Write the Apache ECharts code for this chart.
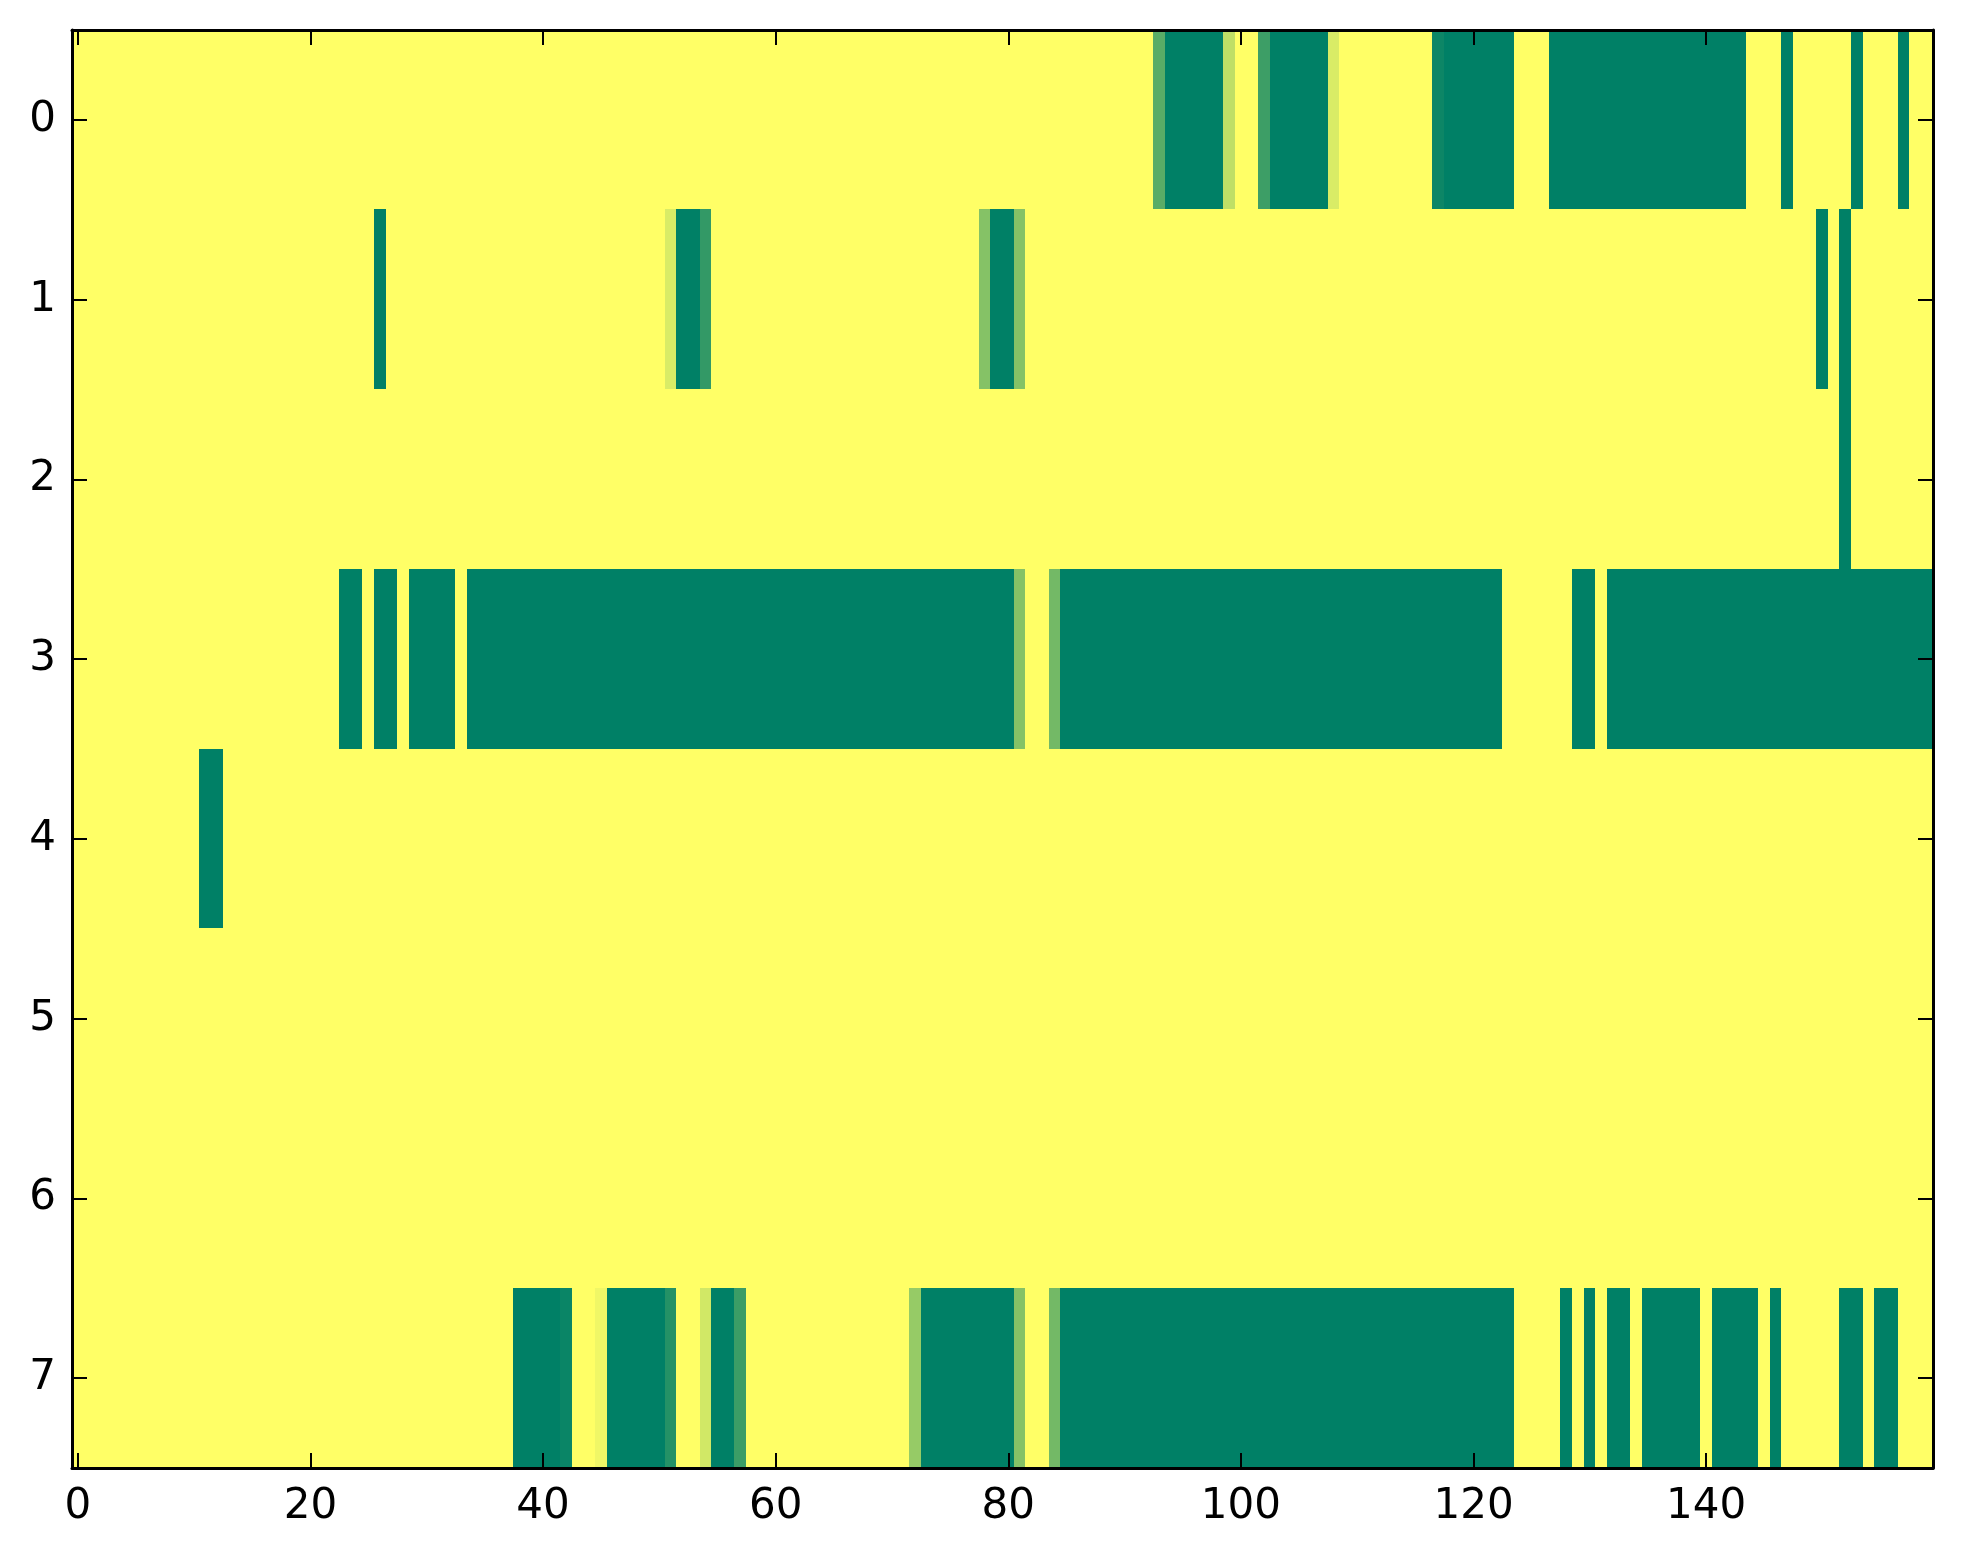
<!DOCTYPE html>
<html>
<head>
<meta charset="utf-8">
<script src="https://cdn.jsdelivr.net/npm/echarts@6/dist/echarts.min.js"></script>
<style>html,body{margin:0;padding:0;background:#fff}#c{width:1963px;height:1564px}</style>
</head>
<body>
<div id="c"></div>
<script>
// Row values (0..1), 160 columns each, rows 0..7 (top to bottom)
const row0 = [
0,0,0,0,0,0,0,0,0,0,0,0,0,0,0,0,0,0,0,0,
0,0,0,0,0,0,0,0,0,0,0,0,0,0,0,0,0,0,0,0,
0,0,0,0,0,0,0,0,0,0,0,0,0,0,0,0,0,0,0,0,
0,0,0,0,0,0,0,0,0,0,0,0,0,0,0,0,0,0,0,0,
0,0,0,0,0,0,0,0,0,0,0,0,0,0.65,1,1,1,1,1,0.25,
0,0,0.76,1,1,1,1,1,0.15,0,0,0,0,0,0,0,0,0.95,1,1,
1,1,1,1,0,0,0,1,1,1,1,1,1,1,1,1,1,1,1,1,
1,1,1,1,0,0,0,1,0,0,0,0,0,1,0,0,0,1,0,0
];
const row1 = [
0,0,0,0,0,0,0,0,0,0,0,0,0,0,0,0,0,0,0,0,
0,0,0,0,0,0,1,0,0,0,0,0,0,0,0,0,0,0,0,0,
0,0,0,0,0,0,0,0,0,0,0,0.15,1,1,0.8,0,0,0,0,0,
0,0,0,0,0,0,0,0,0,0,0,0,0,0,0,0,0,0,0.48,1,
1,0.48,0,0,0,0,0,0,0,0,0,0,0,0,0,0,0,0,0,0,
0,0,0,0,0,0,0,0,0,0,0,0,0,0,0,0,0,0,0,0,
0,0,0,0,0,0,0,0,0,0,0,0,0,0,0,0,0,0,0,0,
0,0,0,0,0,0,0,0,0,0,1,0,1,0,0,0,0,0,0,0
];
const row2 = [
0,0,0,0,0,0,0,0,0,0,0,0,0,0,0,0,0,0,0,0,
0,0,0,0,0,0,0,0,0,0,0,0,0,0,0,0,0,0,0,0,
0,0,0,0,0,0,0,0,0,0,0,0,0,0,0,0,0,0,0,0,
0,0,0,0,0,0,0,0,0,0,0,0,0,0,0,0,0,0,0,0,
0,0,0,0,0,0,0,0,0,0,0,0,0,0,0,0,0,0,0,0,
0,0,0,0,0,0,0,0,0,0,0,0,0,0,0,0,0,0,0,0,
0,0,0,0,0,0,0,0,0,0,0,0,0,0,0,0,0,0,0,0,
0,0,0,0,0,0,0,0,0,0,0,0,1,0,0,0,0,0,0,0
];
const row3 = [
0,0,0,0,0,0,0,0,0,0,0,0,0,0,0,0,0,0,0,0,
0,0,0,1,1,0,1,1,0,1,1,1,1,0,1,1,1,1,1,1,
1,1,1,1,1,1,1,1,1,1,1,1,1,1,1,1,1,1,1,1,
1,1,1,1,1,1,1,1,1,1,1,1,1,1,1,1,1,1,1,1,
1,0.48,0,0,0.55,1,1,1,1,1,1,1,1,1,1,1,1,1,1,1,
1,1,1,1,1,1,1,1,1,1,1,1,1,1,1,1,1,1,1,1,
1,1,1,0,0,0,0,0,0,1,1,0,1,1,1,1,1,1,1,1,
1,1,1,1,1,1,1,1,1,1,1,1,1,1,1,1,1,1,1,1
];
const row4 = [
0,0,0,0,0,0,0,0,0,0,0,1,1,0,0,0,0,0,0,0,
0,0,0,0,0,0,0,0,0,0,0,0,0,0,0,0,0,0,0,0,
0,0,0,0,0,0,0,0,0,0,0,0,0,0,0,0,0,0,0,0,
0,0,0,0,0,0,0,0,0,0,0,0,0,0,0,0,0,0,0,0,
0,0,0,0,0,0,0,0,0,0,0,0,0,0,0,0,0,0,0,0,
0,0,0,0,0,0,0,0,0,0,0,0,0,0,0,0,0,0,0,0,
0,0,0,0,0,0,0,0,0,0,0,0,0,0,0,0,0,0,0,0,
0,0,0,0,0,0,0,0,0,0,0,0,0,0,0,0,0,0,0,0
];
const row5 = [
0,0,0,0,0,0,0,0,0,0,0,0,0,0,0,0,0,0,0,0,
0,0,0,0,0,0,0,0,0,0,0,0,0,0,0,0,0,0,0,0,
0,0,0,0,0,0,0,0,0,0,0,0,0,0,0,0,0,0,0,0,
0,0,0,0,0,0,0,0,0,0,0,0,0,0,0,0,0,0,0,0,
0,0,0,0,0,0,0,0,0,0,0,0,0,0,0,0,0,0,0,0,
0,0,0,0,0,0,0,0,0,0,0,0,0,0,0,0,0,0,0,0,
0,0,0,0,0,0,0,0,0,0,0,0,0,0,0,0,0,0,0,0,
0,0,0,0,0,0,0,0,0,0,0,0,0,0,0,0,0,0,0,0
];
const row6 = [
0,0,0,0,0,0,0,0,0,0,0,0,0,0,0,0,0,0,0,0,
0,0,0,0,0,0,0,0,0,0,0,0,0,0,0,0,0,0,0,0,
0,0,0,0,0,0,0,0,0,0,0,0,0,0,0,0,0,0,0,0,
0,0,0,0,0,0,0,0,0,0,0,0,0,0,0,0,0,0,0,0,
0,0,0,0,0,0,0,0,0,0,0,0,0,0,0,0,0,0,0,0,
0,0,0,0,0,0,0,0,0,0,0,0,0,0,0,0,0,0,0,0,
0,0,0,0,0,0,0,0,0,0,0,0,0,0,0,0,0,0,0,0,
0,0,0,0,0,0,0,0,0,0,0,0,0,0,0,0,0,0,0,0
];
const row7 = [
0,0,0,0,0,0,0,0,0,0,0,0,0,0,0,0,0,0,0,0,
0,0,0,0,0,0,0,0,0,0,0,0,0,0,0,0,0,0,1,1,
1,1,0.96,0,0,0.06,1,1,1,1,1,0.86,0,0,0.18,1,1,0.77,0,0,
0,0,0,0,0,0,0,0,0,0,0,0,0.41,1,1,1,1,1,1,1,
1,0.48,0,0,0.55,1,1,1,1,1,1,1,1,1,1,1,1,1,1,1,
1,1,1,1,1,1,1,1,1,1,1,1,1,1,1,1,1,1,1,1,
1,1,1,1,0,0,0,0,1,0,1,0,1,1,0,1,1,1,1,1,
0,1,1,1,1,0,1,0,0,0,0,0,1,1,0,1,1,0,0,0
];
const rows = [row0, row1, row2, row3, row4, row5, row6, row7];
const xCategories = Array.from({length: 160}, (_, i) => String(i));
const yCategories = ['0','1','2','3','4','5','6','7'];
const xTickStep = 20;

const cells = [];
rows.forEach((r, y) => r.forEach((v, x) => cells.push([x, y, v])));

const chart = echarts.init(document.getElementById('c'), null, {renderer: 'canvas'});
const font = {fontFamily: 'DejaVu Sans', fontSize: 42, color: '#000'};
const lineStyle = {color: '#000', width: 3};
const tickFn = (i) => i % xTickStep === 0;

function xAx(pos, showLabel) {
  return {
    type: 'category', data: xCategories, position: pos, boundaryGap: true, z: 10,
    axisLine: {show: true, onZero: false, lineStyle: lineStyle},
    axisTick: {show: true, inside: true, length: 15, alignWithLabel: true, interval: tickFn, lineStyle: {color: '#000', width: 2}},
    axisLabel: Object.assign({show: showLabel, interval: tickFn, margin: 18}, font),
    splitLine: {show: false}
  };
}
function yAx(pos, showLabel) {
  return {
    type: 'category', data: yCategories, position: pos, inverse: true, boundaryGap: true, z: 10,
    axisLine: {show: true, onZero: false, lineStyle: lineStyle},
    axisTick: {show: true, inside: true, length: 15, alignWithLabel: true, lineStyle: {color: '#000', width: 2}},
    axisLabel: Object.assign({show: showLabel, margin: 16}, font),
    splitLine: {show: false}
  };
}

chart.setOption({
  animation: false,
  backgroundColor: '#ffffff',
  grid: {left: 72, right: 30, top: 30, bottom: 96, containLabel: false},
  xAxis: [xAx('bottom', true), xAx('top', false)],
  yAxis: [yAx('left', true), yAx('right', false)],
  visualMap: {
    show: false, type: 'continuous', min: 0, max: 1, dimension: 2, seriesIndex: 0,
    inRange: {color: ['#ffff66', '#008066']}
  },
  series: [{
    type: 'custom', xAxisIndex: 0, yAxisIndex: 0, data: cells,
    encode: {x: 0, y: 1},
    clip: true,
    renderItem: function (params, api) {
      const p = api.coord([api.value(0), api.value(1)]);
      const s = api.size([1, 1]);
      const x0 = Math.floor(p[0] - s[0] / 2);
      const y0 = Math.floor(p[1] - s[1] / 2);
      const x1 = Math.ceil(p[0] + s[0] / 2);
      const y1 = Math.ceil(p[1] + s[1] / 2);
      return {
        type: 'rect',
        shape: {x: x0, y: y0, width: x1 - x0, height: y1 - y0},
        style: {fill: api.visual('color'), stroke: null, lineWidth: 0}
      };
    }
  }]
});
</script>
</body>
</html>
